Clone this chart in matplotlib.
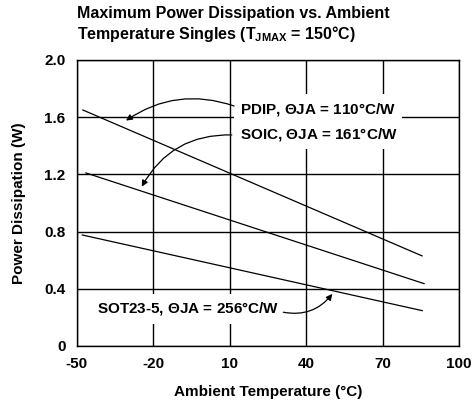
import matplotlib
matplotlib.use('Agg')
import matplotlib.pyplot as plt

plt.rcParams['font.family'] = ['Liberation Sans', 'DejaVu Sans']
plt.rcParams['font.weight'] = 'bold'
plt.rcParams['axes.unicode_minus'] = False
plt.rcParams['mathtext.fontset'] = 'custom'
plt.rcParams['mathtext.rm'] = 'Liberation Sans'
plt.rcParams['mathtext.bf'] = 'Liberation Sans:bold'

# line end points (temperature degC, power W)
pdip_t = [-47.5, 85.5]
pdip_p = [1.65, 0.63]
soic_t = [-46.3, 86.3]
soic_p = [1.21, 0.436]
sot_t = [-47.7, 85.6]
sot_p = [0.776, 0.247]

x_ticks = [-50, -20, 10, 40, 70, 100]
y_ticks = [0, 0.4, 0.8, 1.2, 1.6, 2.0]
y_tick_labels = ['0', '0.4', '0.8', '1.2', '1.6', '2.0']

fig = plt.figure(figsize=(4.74, 4.04), dpi=100)
ax = fig.add_axes([0.1614, 0.1436, 0.807, 0.708])

ax.plot(pdip_t, pdip_p, color='black', lw=0.9)
ax.plot(soic_t, soic_p, color='black', lw=0.9)
ax.plot(sot_t, sot_p, color='black', lw=0.9)

ax.set_xlim(-50, 100)
ax.set_ylim(0, 2.0)
ax.set_xticks(x_ticks)
ax.set_yticks(y_ticks)
ax.set_yticklabels(y_tick_labels)
ax.tick_params(length=0, labelsize=11, pad=8)
ax.grid(True, color='black', lw=1.0)
ax.set_axisbelow(True)
for s in ax.spines.values():
    s.set_linewidth(1.0)

ax.set_xlabel('Ambient Temperature (°C)', fontsize=11, fontweight='bold', labelpad=10)
ax.set_ylabel('Power Dissipation (W)', fontsize=11, fontweight='bold', labelpad=13)

fig.text(77 / 474, 1 - 6 / 404,
         'Maximum Power Dissipation vs. Ambient\nTemperature Singles ($\\mathbf{T_{JMAX}}$ = 150°C)',
         fontsize=11.5, fontweight='bold', va='top', ha='left', linespacing=1.2)

box = dict(boxstyle='square,pad=0.4', fc='white', ec='none')
ax.text(14.1, 1.657, 'PDIP, $\\Theta$JA = 110°C/W', fontsize=11, fontweight='bold',
        va='center', ha='left', bbox=box, zorder=3)
ax.text(14.1, 1.48, 'SOIC, $\\Theta$JA = 161°C/W', fontsize=11, fontweight='bold',
        va='center', ha='left', bbox=box, zorder=3)
ax.text(29.5, 0.259, 'SOT23-5, $\\Theta$JA = 256°C/W', fontsize=11, fontweight='bold',
        va='center', ha='right', bbox=dict(boxstyle='square,pad=0.45', fc='white', ec='none'),
        zorder=3)

arrow = dict(arrowstyle='-|>', color='black', lw=0.9, mutation_scale=9,
             shrinkA=0, shrinkB=0)
# (head, tail, curvature)
ax.annotate('', xy=(-30.6, 1.576), xytext=(11.8, 1.678), zorder=4,
            arrowprops=dict(arrow, connectionstyle='arc3,rad=0.25'))
ax.annotate('', xy=(-24.4, 1.114), xytext=(10.9, 1.476), zorder=4,
            arrowprops=dict(arrow, connectionstyle='arc3,rad=0.3'))
ax.annotate('', xy=(50.3, 0.364), xytext=(31.1, 0.236), zorder=4,
            arrowprops=dict(arrow, connectionstyle='arc3,rad=0.3'))

fig.savefig('out.png', dpi=100)
